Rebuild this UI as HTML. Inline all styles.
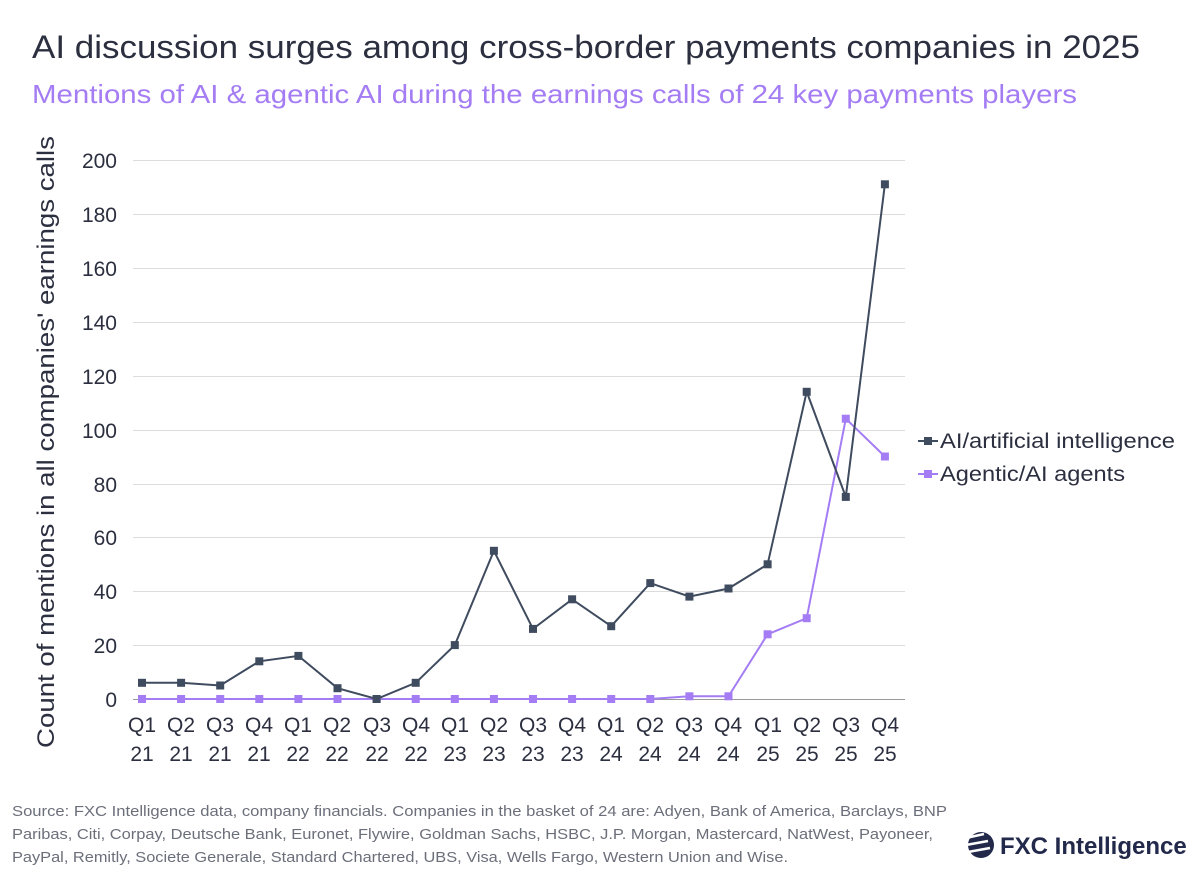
<!DOCTYPE html>
<html><head><meta charset="utf-8"><style>
body{margin:0;background:#fff;font-family:"Liberation Sans",sans-serif;}
</style></head><body>
<svg width="1200" height="875" xmlns="http://www.w3.org/2000/svg" font-family="Liberation Sans, sans-serif">
<text x="32" y="58" font-size="32" fill="#2b2f3f" textLength="1108" lengthAdjust="spacingAndGlyphs">AI discussion surges among cross-border payments companies in 2025</text>
<text x="32" y="103" font-size="26" fill="#a47cf3" textLength="1045" lengthAdjust="spacingAndGlyphs">Mentions of AI &amp; agentic AI during the earnings calls of 24 key payments players</text>
<g stroke="#dcdcdc" stroke-width="1">
<line x1="133" x2="905" y1="160.5" y2="160.5"/><line x1="133" x2="905" y1="214.5" y2="214.5"/>
<line x1="133" x2="905" y1="268.5" y2="268.5"/><line x1="133" x2="905" y1="322.5" y2="322.5"/>
<line x1="133" x2="905" y1="376.5" y2="376.5"/><line x1="133" x2="905" y1="430.5" y2="430.5"/>
<line x1="133" x2="905" y1="484.5" y2="484.5"/><line x1="133" x2="905" y1="537.5" y2="537.5"/>
<line x1="133" x2="905" y1="591.5" y2="591.5"/><line x1="133" x2="905" y1="645.5" y2="645.5"/>
</g>
<line x1="133" x2="905" y1="699.5" y2="699.5" stroke="#999"/>
<g font-size="21" fill="#2b2f3f" text-anchor="end">
<text x="117" y="168">200</text><text x="117" y="222">180</text><text x="117" y="276">160</text>
<text x="117" y="330">140</text><text x="117" y="384">120</text><text x="117" y="438">100</text>
<text x="117" y="492">80</text><text x="117" y="545">60</text><text x="117" y="599">40</text>
<text x="117" y="653">20</text><text x="117" y="707">0</text>
</g>
<text transform="translate(54,442) rotate(-90)" font-size="24" fill="#2b2f3f" text-anchor="middle" textLength="612" lengthAdjust="spacingAndGlyphs">Count of mentions in all companies' earnings calls</text>
<g font-size="21" fill="#2b2f3f" text-anchor="middle">
<text x="142" y="732">Q1</text><text x="142" y="761">21</text>
<text x="181" y="732">Q2</text><text x="181" y="761">21</text>
<text x="220" y="732">Q3</text><text x="220" y="761">21</text>
<text x="259" y="732">Q4</text><text x="259" y="761">21</text>
<text x="298" y="732">Q1</text><text x="298" y="761">22</text>
<text x="337" y="732">Q2</text><text x="337" y="761">22</text>
<text x="377" y="732">Q3</text><text x="377" y="761">22</text>
<text x="416" y="732">Q4</text><text x="416" y="761">22</text>
<text x="455" y="732">Q1</text><text x="455" y="761">23</text>
<text x="494" y="732">Q2</text><text x="494" y="761">23</text>
<text x="533" y="732">Q3</text><text x="533" y="761">23</text>
<text x="572" y="732">Q4</text><text x="572" y="761">23</text>
<text x="611" y="732">Q1</text><text x="611" y="761">24</text>
<text x="650" y="732">Q2</text><text x="650" y="761">24</text>
<text x="689" y="732">Q3</text><text x="689" y="761">24</text>
<text x="728" y="732">Q4</text><text x="728" y="761">24</text>
<text x="768" y="732">Q1</text><text x="768" y="761">25</text>
<text x="807" y="732">Q2</text><text x="807" y="761">25</text>
<text x="846" y="732">Q3</text><text x="846" y="761">25</text>
<text x="885" y="732">Q4</text><text x="885" y="761">25</text>
</g>
<polyline fill="none" stroke="#a47cf3" stroke-width="2" points="142,699 181.1,699 220.2,699 259.3,699 298.4,699 337.5,699 376.6,699 415.7,699 454.8,699 493.9,699 533,699 572.1,699 611.2,699 650.3,699 689.4,696.3 728.5,696.3 767.6,634.3 806.7,618.2 845.8,418.7 884.9,456.5"/>
<g fill="#a47cf3">
<rect x="138" y="695" width="8" height="8"/><rect x="177.1" y="695" width="8" height="8"/><rect x="216.2" y="695" width="8" height="8"/><rect x="255.3" y="695" width="8" height="8"/><rect x="294.4" y="695" width="8" height="8"/><rect x="333.5" y="695" width="8" height="8"/><rect x="372.6" y="695" width="8" height="8"/><rect x="411.7" y="695" width="8" height="8"/><rect x="450.8" y="695" width="8" height="8"/><rect x="489.9" y="695" width="8" height="8"/><rect x="529" y="695" width="8" height="8"/><rect x="568.1" y="695" width="8" height="8"/><rect x="607.2" y="695" width="8" height="8"/><rect x="646.3" y="695" width="8" height="8"/><rect x="685.4" y="692.3" width="8" height="8"/><rect x="724.5" y="692.3" width="8" height="8"/><rect x="763.6" y="630.3" width="8" height="8"/><rect x="802.7" y="614.2" width="8" height="8"/><rect x="841.8" y="414.7" width="8" height="8"/><rect x="880.9" y="452.5" width="8" height="8"/>
</g>
<polyline fill="none" stroke="#3f4b5e" stroke-width="2" points="142,682.8 181.1,682.8 220.2,685.5 259.3,661.3 298.4,655.9 337.5,688.2 376.6,699 415.7,682.8 454.8,645.1 493.9,550.8 533,628.9 572.1,599.3 611.2,626.2 650.3,583.1 689.4,596.6 728.5,588.5 767.6,564.3 806.7,391.8 845.8,496.9 884.9,184.3"/>
<g fill="#3f4b5e">
<rect x="138" y="678.8" width="8" height="8"/><rect x="177.1" y="678.8" width="8" height="8"/><rect x="216.2" y="681.5" width="8" height="8"/><rect x="255.3" y="657.3" width="8" height="8"/><rect x="294.4" y="651.9" width="8" height="8"/><rect x="333.5" y="684.2" width="8" height="8"/><rect x="372.6" y="695" width="8" height="8"/><rect x="411.7" y="678.8" width="8" height="8"/><rect x="450.8" y="641.1" width="8" height="8"/><rect x="489.9" y="546.8" width="8" height="8"/><rect x="529" y="624.9" width="8" height="8"/><rect x="568.1" y="595.3" width="8" height="8"/><rect x="607.2" y="622.2" width="8" height="8"/><rect x="646.3" y="579.1" width="8" height="8"/><rect x="685.4" y="592.6" width="8" height="8"/><rect x="724.5" y="584.5" width="8" height="8"/><rect x="763.6" y="560.3" width="8" height="8"/><rect x="802.7" y="387.8" width="8" height="8"/><rect x="841.8" y="492.9" width="8" height="8"/><rect x="880.9" y="180.3" width="8" height="8"/>
</g>
<line x1="918" x2="938" y1="441" y2="441" stroke="#3f4b5e" stroke-width="2"/><rect x="924" y="437" width="8" height="8" fill="#3f4b5e"/>
<text x="940" y="448" font-size="21" fill="#2b2f3f" textLength="235" lengthAdjust="spacingAndGlyphs">AI/artificial intelligence</text>
<line x1="918" x2="938" y1="474" y2="474" stroke="#a47cf3" stroke-width="2"/><rect x="924" y="470" width="8" height="8" fill="#a47cf3"/>
<text x="940" y="481" font-size="21" fill="#2b2f3f" textLength="185" lengthAdjust="spacingAndGlyphs">Agentic/AI agents</text>
<g font-size="15" fill="#6b6f7a">
<text x="12" y="816" textLength="935" lengthAdjust="spacingAndGlyphs">Source: FXC Intelligence data, company financials. Companies in the basket of 24 are: Adyen, Bank of America, Barclays, BNP</text>
<text x="12" y="839" textLength="921" lengthAdjust="spacingAndGlyphs">Paribas, Citi, Corpay, Deutsche Bank, Euronet, Flywire, Goldman Sachs, HSBC, J.P. Morgan, Mastercard, NatWest, Payoneer,</text>
<text x="12" y="862" textLength="776" lengthAdjust="spacingAndGlyphs">PayPal, Remitly, Societe Generale, Standard Chartered, UBS, Visa, Wells Fargo, Western Union and Wise.</text>
</g>
<circle cx="981" cy="845" r="13" fill="#23294a"/>
<g stroke="#fff" stroke-width="2.5"><line x1="966" y1="838" x2="984" y2="834"/><line x1="966" y1="845" x2="988" y2="841"/><line x1="968" y1="852" x2="990" y2="848"/></g>
<text x="1000" y="854" font-size="24" font-weight="bold" fill="#23294a">FXC Intelligence</text>
</svg>
</body></html>
